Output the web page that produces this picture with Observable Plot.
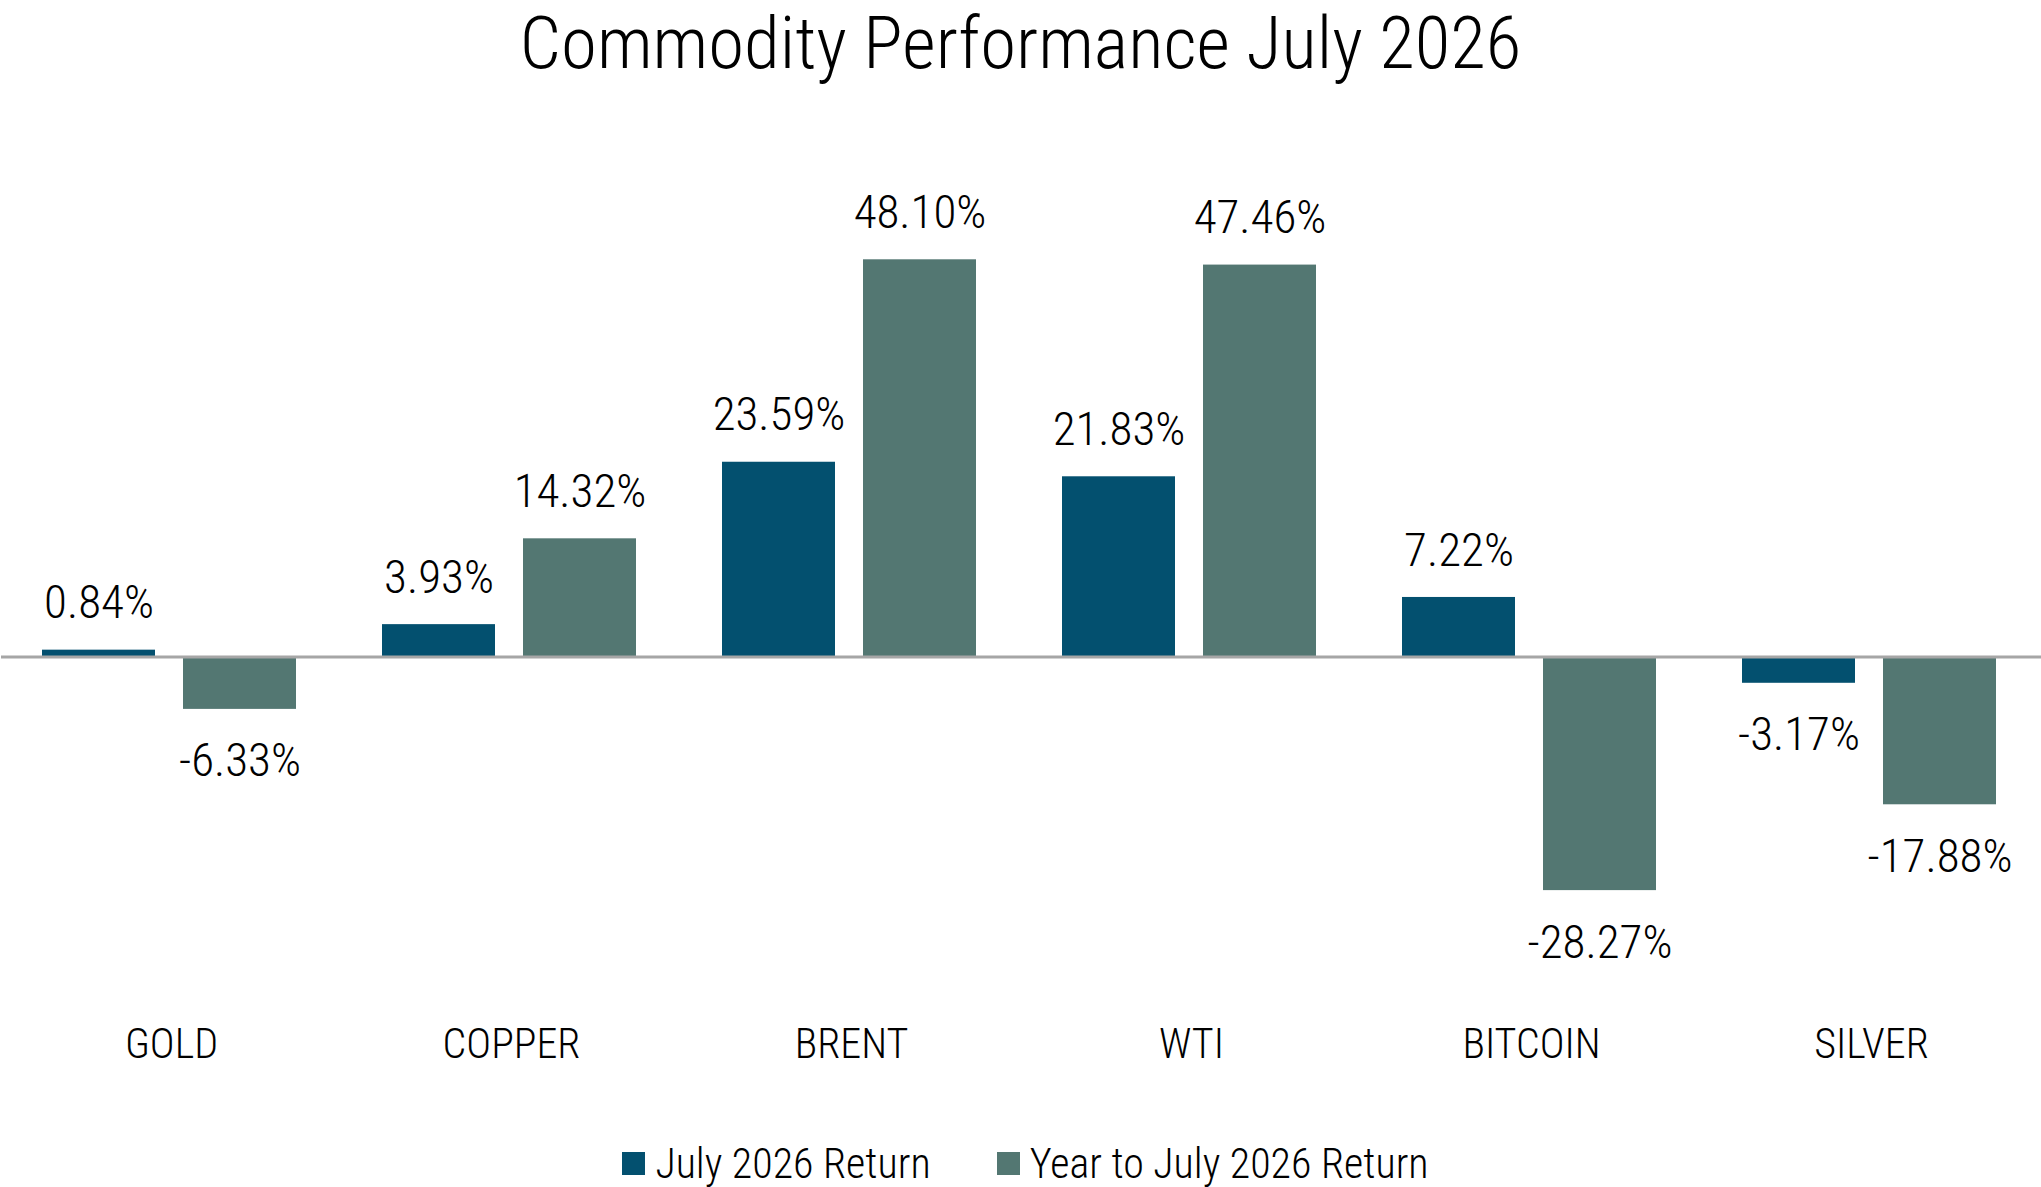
<!DOCTYPE html>
<html>
<head>
<meta charset="utf-8">
<script src="https://cdn.jsdelivr.net/npm/d3@7"></script>
<script src="https://cdn.jsdelivr.net/npm/@observablehq/plot@0.6"></script>
<style>
  html, body { margin: 0; padding: 0; background: #fff; }
  body { width: 2041px; height: 1187px; position: relative; overflow: hidden;
         font-family: "Roboto Condensed", "DejaVu Sans Condensed", sans-serif; font-weight: 300; color: #000; }
  #title { position: absolute; left: 0; top: 0; width: 2041px; height: 100px; text-align: center;
           font-size: 73px; line-height: 86px; padding-top: 0px; box-sizing: border-box; }
  #chart { position: absolute; left: 0; top: 100px; }
  #legend { position: absolute; left: 10px; top: 1140px; width: 2031px; height: 46px;
            display: flex; justify-content: center; align-items: center; font-size: 42px; }
  .item { display: flex; align-items: center; margin: 0 33px; }
  .sw { width: 23px; height: 23px; margin-right: 10px; }
</style>
</head>
<body>
<div id="title">Commodity Performance July 2026</div>
<div id="chart"></div>
<div id="legend"></div>
<script>
const categories = ["GOLD", "COPPER", "BRENT", "WTI", "BITCOIN", "SILVER"];
const seriesNames = ["July 2026 Return", "Year to July 2026 Return"];
const julyReturn = [0.84, 3.93, 23.59, 21.83, 7.22, -3.17];
const ytdReturn = [-6.33, 14.32, 48.10, 47.46, -28.27, -17.88];
const seriesColors = ["#03506f", "#537772"];

const data = [];
categories.forEach((c, i) => {
  data.push({cat: c, series: seriesNames[0], value: julyReturn[i]});
  data.push({cat: c, series: seriesNames[1], value: ytdReturn[i]});
});
const fmt = v => v.toFixed(2) + "%";
const FONT = '"Roboto Condensed", "DejaVu Sans Condensed", sans-serif';

const chart = Plot.plot({
  width: 2041,
  height: 1000,
  marginLeft: 0,
  marginRight: 0,
  marginTop: 61,
  marginBottom: 113,
  style: {fontFamily: FONT, fontWeight: 300, color: "#000", background: "#fff"},
  fx: {domain: categories, padding: 0},
  x: {domain: seriesNames, paddingInner: 0.2, paddingOuter: 0.3, align: 0.47, axis: null},
  y: {domain: [-40, 60], axis: null},
  color: {domain: seriesNames, range: seriesColors},
  marks: [
    Plot.barY(data, {fx: "cat", x: "series", y: "value", fill: "series"}),
    Plot.ruleY([0], {stroke: "#a6a6a6", strokeWidth: 3}),
    Plot.text(data.filter(d => d.value >= 0), {fx: "cat", x: "series", y: "value", text: d => fmt(d.value), dy: -47, fontSize: 47, fill: "#000"}),
    Plot.text(data.filter(d => d.value < 0), {fx: "cat", x: "series", y: "value", text: d => fmt(d.value), dy: 52, fontSize: 47, fill: "#000"}),
    Plot.axisFx({anchor: "bottom", tickSize: 0, tickPadding: 41, fontSize: 42, label: null, fill: "#000"})
  ]
});
document.getElementById("chart").appendChild(chart);

const legend = document.getElementById("legend");
seriesNames.forEach((s, i) => {
  const item = document.createElement("div");
  item.className = "item";
  const sw = document.createElement("span");
  sw.className = "sw";
  sw.style.background = seriesColors[i];
  const t = document.createElement("span");
  t.textContent = s;
  item.appendChild(sw);
  item.appendChild(t);
  legend.appendChild(item);
});
</script>
</body>
</html>
